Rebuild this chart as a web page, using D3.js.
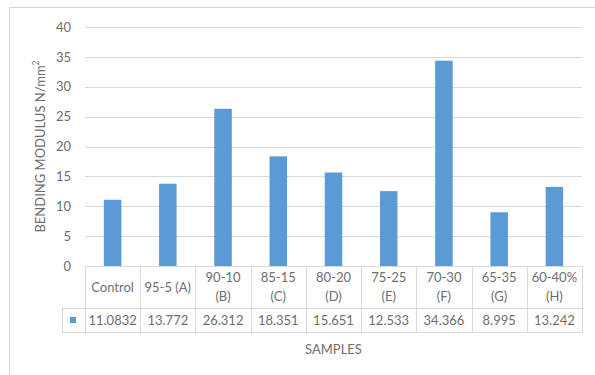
<!DOCTYPE html>
<html>
<head>
<meta charset="utf-8">
<script src="https://cdn.jsdelivr.net/npm/d3@7"></script>
<style>
  html, body { margin: 0; padding: 0; background: #fff; }
  svg { display: block; font-family: Lato, "Open Sans", sans-serif; }
</style>
</head>
<body>
<svg id="chart" width="595" height="375"></svg>
<script>
// Sample labels (line breaks mark how each header wraps in the data table)
const categories = ["Control", "95-5 (A)", "90-10\n(B)", "85-15\n(C)", "80-20\n(D)",
                    "75-25\n(E)", "70-30\n(F)", "65-35\n(G)", "60-40%\n(H)"];
// Bending modulus per sample, N/mm²
const values = [11.0832, 13.772, 26.312, 18.351, 15.651, 12.533, 34.366, 8.995, 13.242];
// Value axis ticks
const yTicks = [0, 5, 10, 15, 20, 25, 30, 35, 40];

const svg = d3.select("#chart");
const textColor = "#6e6e6e";
const lineColor = "#d9d9d9";
const barColor = "#5b9bd5";
const fs = 13;

const plot = { left: 85, right: 582, top: 27, bottom: 266 };
const table = { legendLeft: 62, row1: 308, row2: 332 };

const x = d3.scaleBand().domain(categories).range([plot.left, plot.right]).paddingInner(0).paddingOuter(0);
const y = d3.scaleLinear().domain([0, 40]).range([plot.bottom, plot.top]);

// chart frame
svg.append("path")
  .attr("d", `M9.5,375 V7.5 H595`)
  .attr("fill", "none").attr("stroke", "#d4d4d4").attr("stroke-width", 1);

// horizontal gridlines
svg.append("g").selectAll("line").data(yTicks.filter(t => t > 0)).join("line")
  .attr("x1", plot.left).attr("x2", plot.right)
  .attr("y1", d => Math.round(y(d)) + 0.5).attr("y2", d => Math.round(y(d)) + 0.5)
  .attr("stroke", lineColor).attr("stroke-width", 1);

// value axis labels
const yAxis = d3.axisLeft(y).tickValues(yTicks).tickSize(0).tickPadding(0);
const yg = svg.append("g").attr("transform", `translate(71,0)`).call(yAxis);
yg.select(".domain").remove();
yg.selectAll("text").attr("fill", textColor).attr("font-size", fs).attr("font-family", "Lato, sans-serif");

// bars
const barW = 17.5;
svg.append("g").selectAll("rect").data(values).join("rect")
  .attr("x", (d, i) => x(categories[i]) + x.bandwidth() / 2 - barW / 2)
  .attr("y", d => y(d))
  .attr("width", barW)
  .attr("height", d => y(0) - y(d))
  .attr("fill", barColor);

// data table grid
const tg = svg.append("g").attr("stroke", lineColor).attr("stroke-width", 1);
tg.append("line").attr("x1", plot.left).attr("x2", plot.right)
  .attr("y1", plot.bottom + 0.5).attr("y2", plot.bottom + 0.5);
[table.row1, table.row2].forEach(r => {
  tg.append("line").attr("x1", table.legendLeft).attr("x2", plot.right)
    .attr("y1", r + 0.5).attr("y2", r + 0.5);
});
const bounds = categories.map(c => x(c)).concat([plot.right]);
tg.selectAll("line.v").data(bounds).join("line").attr("class", "v")
  .attr("x1", d => Math.round(d) + 0.5).attr("x2", d => Math.round(d) + 0.5)
  .attr("y1", plot.bottom).attr("y2", table.row2);
tg.append("line").attr("x1", table.legendLeft + 0.5).attr("x2", table.legendLeft + 0.5)
  .attr("y1", table.row1).attr("y2", table.row2);

// category headers
const hg = svg.append("g").attr("fill", textColor).attr("font-size", fs).attr("text-anchor", "middle");
categories.forEach(c => {
  const lines = c.split("\n");
  const cx = x(c) + x.bandwidth() / 2;
  const midY = (plot.bottom + table.row1) / 2;
  const lh = 19;
  lines.forEach((ln, k) => {
    hg.append("text").attr("x", cx)
      .attr("y", midY + (k - (lines.length - 1) / 2) * lh)
      .attr("dy", "0.35em").text(ln);
  });
});

// value row
const vg = svg.append("g").attr("fill", textColor).attr("font-size", fs).attr("text-anchor", "middle");
values.forEach((v, i) => {
  vg.append("text").attr("x", x(categories[i]) + x.bandwidth() / 2)
    .attr("y", (table.row1 + table.row2) / 2).attr("dy", "0.35em").text(String(v));
});
// legend key in the value row
svg.append("rect").attr("x", 70).attr("y", (table.row1 + table.row2) / 2 - 3)
  .attr("width", 6).attr("height", 6).attr("fill", barColor);

// axis titles
svg.append("text").attr("x", (plot.left + plot.right) / 2).attr("y", 349)
  .attr("text-anchor", "middle").attr("dy", "0.35em")
  .attr("fill", textColor).attr("font-size", fs).text("SAMPLES");

const yt = svg.append("text")
  .attr("transform", `translate(40,${(plot.top + plot.bottom) / 2}) rotate(-90)`)
  .attr("text-anchor", "middle").attr("dy", "0.35em")
  .attr("fill", textColor).attr("font-size", fs);
yt.append("tspan").text("BENDING MODULUS N/mm");
yt.append("tspan").attr("font-size", 8.5).attr("dy", "-0.6em").text("2");
</script>
</body>
</html>
